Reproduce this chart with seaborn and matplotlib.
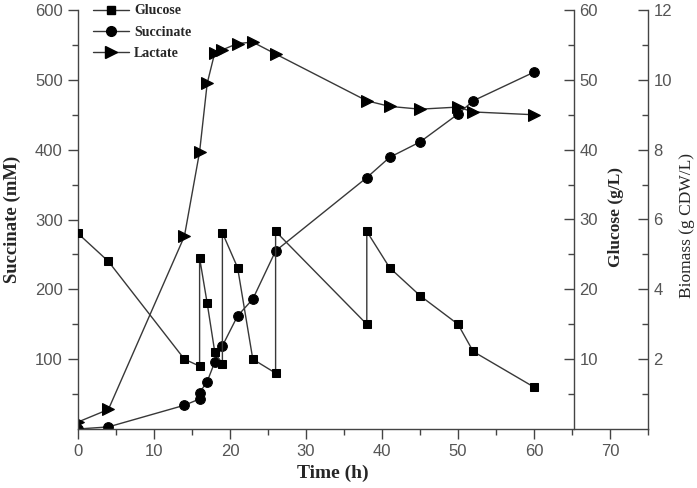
import numpy as np
import pandas as pd
import seaborn as sns
import matplotlib.pyplot as plt
from matplotlib.ticker import FixedLocator
from matplotlib.lines import Line2D

# donnees
temps_glucose = [0, 4, 14, 16, 16, 17, 18, 19, 19, 21, 23, 26, 26, 38, 38, 41, 45, 50, 52, 60]
glucose = [28, 24, 10, 9, 24.5, 18, 11, 9.3, 28.1, 23.1, 10, 8, 28.3, 15, 28.3, 23.1, 19.1, 15, 11.1, 6]

temps_succinate = [0, 4, 14, 16, 16, 17, 18, 19, 21, 23, 26, 38, 41, 45, 50, 52, 60]
succinate = [0, 3, 34, 43, 52, 68, 96, 119, 162, 186, 255, 360, 389, 411, 451, 470, 511]

temps_lactate = [0, 4, 14, 16, 17, 18, 19, 21, 23, 26, 38, 41, 45, 50, 52, 60]
lactate = [10, 28, 276, 397, 495, 539, 543, 552, 554, 537, 470, 462, 458, 461, 454, 450]

sns.set_style("ticks")
plt.rcParams["font.family"] = ["Liberation Sans", "DejaVu Sans"]

fig = plt.figure(figsize=(6.97, 4.88), dpi=100)
ax = fig.add_axes([78 / 697, 59 / 488, 570 / 697, 419 / 488])
ax2 = ax.twinx()
ax3 = ax.twinx()

couleur_ligne = "#383838"
style = dict(estimator=None, sort=False, color=couleur_ligne, linewidth=1.0,
             markerfacecolor="black", markeredgecolor="black", legend=False)

# glucose sur l'axe g/L (meme echelle en pixels)
sns.lineplot(x=temps_glucose, y=glucose, ax=ax2, marker="s", markersize=6, **style)
sns.lineplot(x=temps_succinate, y=succinate, ax=ax, marker="o", markersize=7, **style)
sns.lineplot(x=temps_lactate, y=lactate, ax=ax, marker=">", markersize=8, **style)

ax.set_xlim(0, 75)
ax.set_ylim(0, 600)
ax2.set_ylim(0, 60)
ax3.set_ylim(0, 12)

ax.spines["top"].set_visible(False)
ax.spines["right"].set_visible(False)
for a in (ax2, ax3):
    a.spines["top"].set_visible(False)
    a.spines["left"].set_visible(False)
    a.spines["bottom"].set_visible(False)
ax2.spines["right"].set_position(("axes", 496 / 570))
for a in (ax, ax2, ax3):
    for s in a.spines.values():
        s.set_color("#444444")
        s.set_linewidth(1.0)

ax.xaxis.set_major_locator(FixedLocator([0, 10, 20, 30, 40, 50, 60, 70]))
ax.xaxis.set_minor_locator(FixedLocator([5, 15, 25, 35, 45, 55, 65, 75]))
ax.yaxis.set_major_locator(FixedLocator([100, 200, 300, 400, 500, 600]))
ax.yaxis.set_minor_locator(FixedLocator([50, 150, 250, 350, 450, 550]))
ax2.yaxis.set_major_locator(FixedLocator([10, 20, 30, 40, 50, 60]))
ax2.yaxis.set_minor_locator(FixedLocator([5, 15, 25, 35, 45, 55]))
ax3.yaxis.set_major_locator(FixedLocator([2, 4, 6, 8, 10, 12]))
ax3.yaxis.set_minor_locator(FixedLocator([1, 3, 5, 7, 9, 11]))

ax.tick_params(which="major", direction="out", length=7, width=1, color="#444444",
               labelsize=12, labelcolor="#555555", pad=4)
ax.tick_params(which="minor", direction="out", length=4.5, width=1, color="#444444")
for a in (ax2, ax3):
    a.tick_params(which="major", direction="in", length=7, width=1, color="#444444",
                  labelsize=12, labelcolor="#555555", pad=4)
    a.tick_params(which="minor", direction="in", length=4.5, width=1, color="#444444")

police_titre = dict(family=["Liberation Serif", "DejaVu Serif"], weight="bold", size=13.5)
ax.set_xlabel("Time (h)", fontdict=dict(police_titre, size=14))
ax.set_ylabel("Succinate (mM)", fontdict=police_titre)
ax2.set_ylabel("Glucose (g/L)", fontdict=dict(police_titre, size=12.5))
ax3.set_ylabel("Biomass (g CDW/L)", fontdict=dict(police_titre, weight="normal", size=12.5))
ax.xaxis.set_label_coords((333 - 78) / 570, -0.085)
ax.yaxis.set_label_coords(-0.1, 0.5)
ax2.yaxis.set_label_coords((608 - 78) / 570, 0.505)
ax3.yaxis.set_label_coords((679 - 78) / 570, 0.485)

poignees = [
    Line2D([], [], color=couleur_ligne, lw=1.0, marker="s", markersize=6, markerfacecolor="black", markeredgecolor="black"),
    Line2D([], [], color=couleur_ligne, lw=1.0, marker="o", markersize=7, markerfacecolor="black", markeredgecolor="black"),
    Line2D([], [], color=couleur_ligne, lw=1.0, marker=">", markersize=8, markerfacecolor="black", markeredgecolor="black"),
]
leg = ax.legend(poignees, ["Glucose", "Succinate", "Lactate"], loc="upper left",
                bbox_to_anchor=(80 / 697, 1 + 8 / 488), bbox_transform=fig.transFigure,
                frameon=False, handlelength=2.6, handletextpad=0.4, labelspacing=0.6,
                prop=dict(family=["Liberation Serif", "DejaVu Serif"], weight="bold", size=10))

fig.savefig("out.png", dpi=100)
